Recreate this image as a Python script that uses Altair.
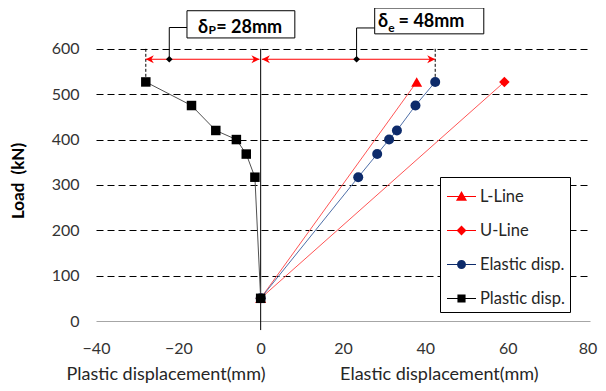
import altair as alt
import pandas as pd

# ---------------- data ----------------
series = ["L-Line", "U-Line", "Elastic disp.", "Plastic disp."]
loads = [50, 317, 368, 400, 420, 475, 527]
elastic_x = [0, 23.7, 28.3, 31.2, 33.1, 37.6, 42.4]
plastic_x = [0, -1.4, -3.5, -5.9, -10.9, -16.8, -27.9]
lline_x = [0, 37.9]
lline_y = [50, 527]
uline_x = [0, 59.2]
uline_y = [50, 527]

x_ticks = [-40, -20, 0, 20, 40, 60, 80]
y_ticks = [0, 100, 200, 300, 400, 500, 600]

# annotation values (data units)
arrow_y = 577
dp_start, dp_end = -27.9, -0.3
de_start, de_end = 0.3, 42.4
callout_x = [-22.2, 23.3]
callout_top = [647, 646]
box_x = [-17.9, 27.7]
box_x2 = [8.3, 54.2]
box_y = [624, 633]
box_y2 = [684, 690]
delta_x = [-15.2, 28.5]
delta_base = [635.6, 647.5]
sub_txt = ["P", "e"]
sub_x = [-12.7, 31.0]
sub_base = [632.5, 638]
val_txt = ["= 28mm", "= 48mm"]
val_x = [-10.8, 33.5]

FONT = "Lato, 'Open Sans', sans-serif"

rows = []
for i, (xx, yy) in enumerate(zip(lline_x, lline_y)):
    rows.append({"series": "L-Line", "x": xx, "y": yy, "o": i, "s": 0})
for i, (xx, yy) in enumerate(zip(uline_x, uline_y)):
    rows.append({"series": "U-Line", "x": xx, "y": yy, "o": i, "s": 1})
for i, (xx, yy) in enumerate(zip(elastic_x, loads)):
    rows.append({"series": "Elastic disp.", "x": xx, "y": yy, "o": i, "s": 2})
for i, (xx, yy) in enumerate(zip(plastic_x, loads)):
    rows.append({"series": "Plastic disp.", "x": xx, "y": yy, "o": i, "s": 3})
df = pd.DataFrame(rows)

xscale = alt.Scale(domain=[-40, 80], nice=False, zero=False)
yscale = alt.Scale(domain=[0, 690], nice=False, zero=False)
xaxis = alt.Axis(values=x_ticks, grid=False, ticks=False, tickSize=0, domain=True,
                 domainColor="#A6A6A6", domainWidth=1.2, labelFont=FONT, labelFontSize=16,
                 labelColor="#333333", labelPadding=19, labelFlush=False, title=None,
                 labelOffset={"condition": {"test": "datum.value === 80", "value": -2.5},
                              "value": 0})
yaxis = alt.Axis(values=y_ticks, grid=True, gridColor="#000000", gridDash=[7, 4], gridWidth=1,
                 gridOpacity={"condition": {"test": "datum.value === 0", "value": 0}, "value": 1},
                 ticks=False, tickSize=0, domain=False, labelFont=FONT, labelFontSize=16,
                 labelColor="#333333", labelPadding=17, labelFlush=False,
                 title="Load \u00a0(kN)", titleFont=FONT, titleFontSize=17, titleFontWeight="bold",
                 titleColor="#000000", titleX=-77.5, titleY=172.5, titleAngle=270,
                 titleBaseline="middle", titleAlign="center")


def X(field="x"):
    return alt.X(f"{field}:Q", scale=xscale, axis=xaxis)


def Y(field="y"):
    return alt.Y(f"{field}:Q", scale=yscale, axis=yaxis)


line_colors = ["#FF5555", "#FF5555", "#4F6FA8", "#505050"]
mark_colors = ["#FF0000", "#FF0000", "#0D2B6B", "#000000"]

# zero vertical line
zero_df = pd.DataFrame({"x": [0], "y": [600], "y2": [-20]})
zero_rule = alt.Chart(zero_df).mark_rule(color="#000000", strokeWidth=1).encode(
    x=X(), y=Y(), y2="y2:Q")

# dashed verticals
dv_df = pd.DataFrame({"x": [dp_start, de_end], "y": [600, 600], "y2": [535, 535]})
dv_rule = alt.Chart(dv_df).mark_rule(color="#000000", strokeWidth=1, strokeDash=[3, 2]).encode(
    x=X(), y=Y(), y2="y2:Q")

lines = alt.Chart(df).mark_line(strokeWidth=1).encode(
    x=X(), y=Y(),
    color=alt.Color("series:N", scale=alt.Scale(domain=series, range=line_colors), legend=None),
    detail="series:N", order="o:Q")

points = alt.Chart(df).mark_point(filled=True, opacity=1).encode(
    x=X(), y=Y(),
    color=alt.Color("series:N", scale=alt.Scale(domain=series, range=mark_colors), legend=None),
    shape=alt.Shape("series:N", scale=alt.Scale(domain=series,
                    range=["triangle-up", "diamond", "circle", "square"]), legend=None),
    size=alt.Size("series:N", scale=alt.Scale(domain=series, range=[120, 90, 81, 90]), legend=None),
    order="s:Q")

# arrows
arr_df = pd.DataFrame({"x": [dp_start, de_start], "x2": [dp_end, de_end], "y": [arrow_y, arrow_y]})
arrows = alt.Chart(arr_df).mark_rule(color="#FF0000", strokeWidth=1).encode(x=X(), x2="x2:Q", y=Y())
right_path = "M0,0L-1,-0.5L-0.7,0L-1,0.5Z"
left_path = "M0,0L1,-0.5L0.7,0L1,0.5Z"
ah_r = alt.Chart(pd.DataFrame({"x": [dp_end, de_end], "y": [arrow_y, arrow_y]})).mark_point(
    shape=right_path, filled=True, color="#FF0000", size=256, opacity=1).encode(x=X(), y=Y())
ah_l = alt.Chart(pd.DataFrame({"x": [dp_start, de_start], "y": [arrow_y, arrow_y]})).mark_point(
    shape=left_path, filled=True, color="#FF0000", size=256, opacity=1).encode(x=X(), y=Y())

# callouts
co_rows = []
for g in range(2):
    co_rows.append({"g": g, "o": 0, "x": callout_x[g], "y": arrow_y})
    co_rows.append({"g": g, "o": 1, "x": callout_x[g], "y": callout_top[g]})
    co_rows.append({"g": g, "o": 2, "x": box_x[g], "y": callout_top[g]})
callouts = alt.Chart(pd.DataFrame(co_rows)).mark_line(color="#000000", strokeWidth=1).encode(
    x=X(), y=Y(), detail="g:N", order="o:Q")
dmd = alt.Chart(pd.DataFrame({"x": callout_x, "y": [arrow_y, arrow_y]})).mark_point(
    shape="diamond", filled=True, color="#000000", size=45, opacity=1).encode(x=X(), y=Y())

boxes = alt.Chart(pd.DataFrame({"x": box_x, "x2": box_x2, "y": box_y, "y2": box_y2})).mark_rect(
    fill="#FFFFFF", stroke="#000000", strokeWidth=1).encode(x=X(), x2="x2:Q", y=Y(), y2="y2:Q")

t_delta = alt.Chart(pd.DataFrame({"x": delta_x, "y": delta_base, "t": ["δ", "δ"]})).mark_text(
    font=FONT, fontSize=18, fontWeight="bold", align="left", baseline="alphabetic", color="#000000"
).encode(x=X(), y=Y(), text="t:N")
t_sub = alt.Chart(pd.DataFrame({"x": sub_x, "y": sub_base, "t": sub_txt})).mark_text(
    font=FONT, fontSize=12, fontWeight="bold", align="left", baseline="alphabetic", color="#000000"
).encode(x=X(), y=Y(), text="t:N")
t_val = alt.Chart(pd.DataFrame({"x": val_x, "y": delta_base, "t": val_txt})).mark_text(
    font=FONT, fontSize=18, fontWeight="bold", align="left", baseline="alphabetic", color="#000000"
).encode(x=X(), y=Y(), text="t:N")

# x titles
xt_df = pd.DataFrame({"t": ["Plastic displacement(mm)", "Elastic displacement(mm)"],
                      "px": [70.0, 343.3]})
xtitles = alt.Chart(xt_df).mark_text(font=FONT, fontSize=18, color="#262626",
                                     baseline="middle", align="center").encode(
    x=alt.X("px:Q", scale=None), y=alt.value(367), text="t:N")

# legend-only layer
leg_paths = [
    "M-1,-0.04H1V0.04H-1Z M0,-0.38L0.38,0.3H-0.38Z",
    "M-1,-0.04H1V0.04H-1Z M0,-0.34L0.34,0L0,0.34L-0.34,0Z",
    "M-1,-0.04H1V0.04H-1Z M-0.31,0A0.31,0.31 0 1,1 0.31,0A0.31,0.31 0 1,1 -0.31,0Z",
    "M-1,-0.04H1V0.04H-1Z M-0.28,-0.28H0.28V0.28H-0.28Z",
]
legend = alt.Legend(title=None, orient="none", legendX=344, legendY=169, padding=5,
                    rowPadding=11, symbolSize=841, symbolStrokeWidth=0, symbolOffset=2,
                    labelOffset=4, labelFont=FONT, labelFontSize=16.5, labelColor="#262626",
                    strokeColor="#000000", fillColor="#FFFFFF", symbolOpacity=1)
leg_layer = alt.Chart(pd.DataFrame({"series": series})).transform_filter("false").mark_point(
    filled=True, opacity=1).encode(
    color=alt.Color("series:N", scale=alt.Scale(domain=series, range=mark_colors), legend=legend,
                    sort=series),
    shape=alt.Shape("series:N", scale=alt.Scale(domain=series, range=leg_paths), legend=legend,
                    sort=series))

chart = alt.layer(
    zero_rule, dv_rule, lines, points, arrows, ah_r, ah_l, callouts, dmd, boxes,
    t_delta, t_sub, t_val, xtitles, leg_layer
).resolve_scale(color="independent", shape="independent", size="independent").properties(
    width=494, height=313,
    autosize=alt.AutoSizeParams(type="none"),
    padding={"left": 88, "top": 0, "right": 8, "bottom": 62},
    background="#FFFFFF",
).configure_view(stroke=None)

chart.save("out.html", embed_options={"renderer": "svg", "actions": False})
